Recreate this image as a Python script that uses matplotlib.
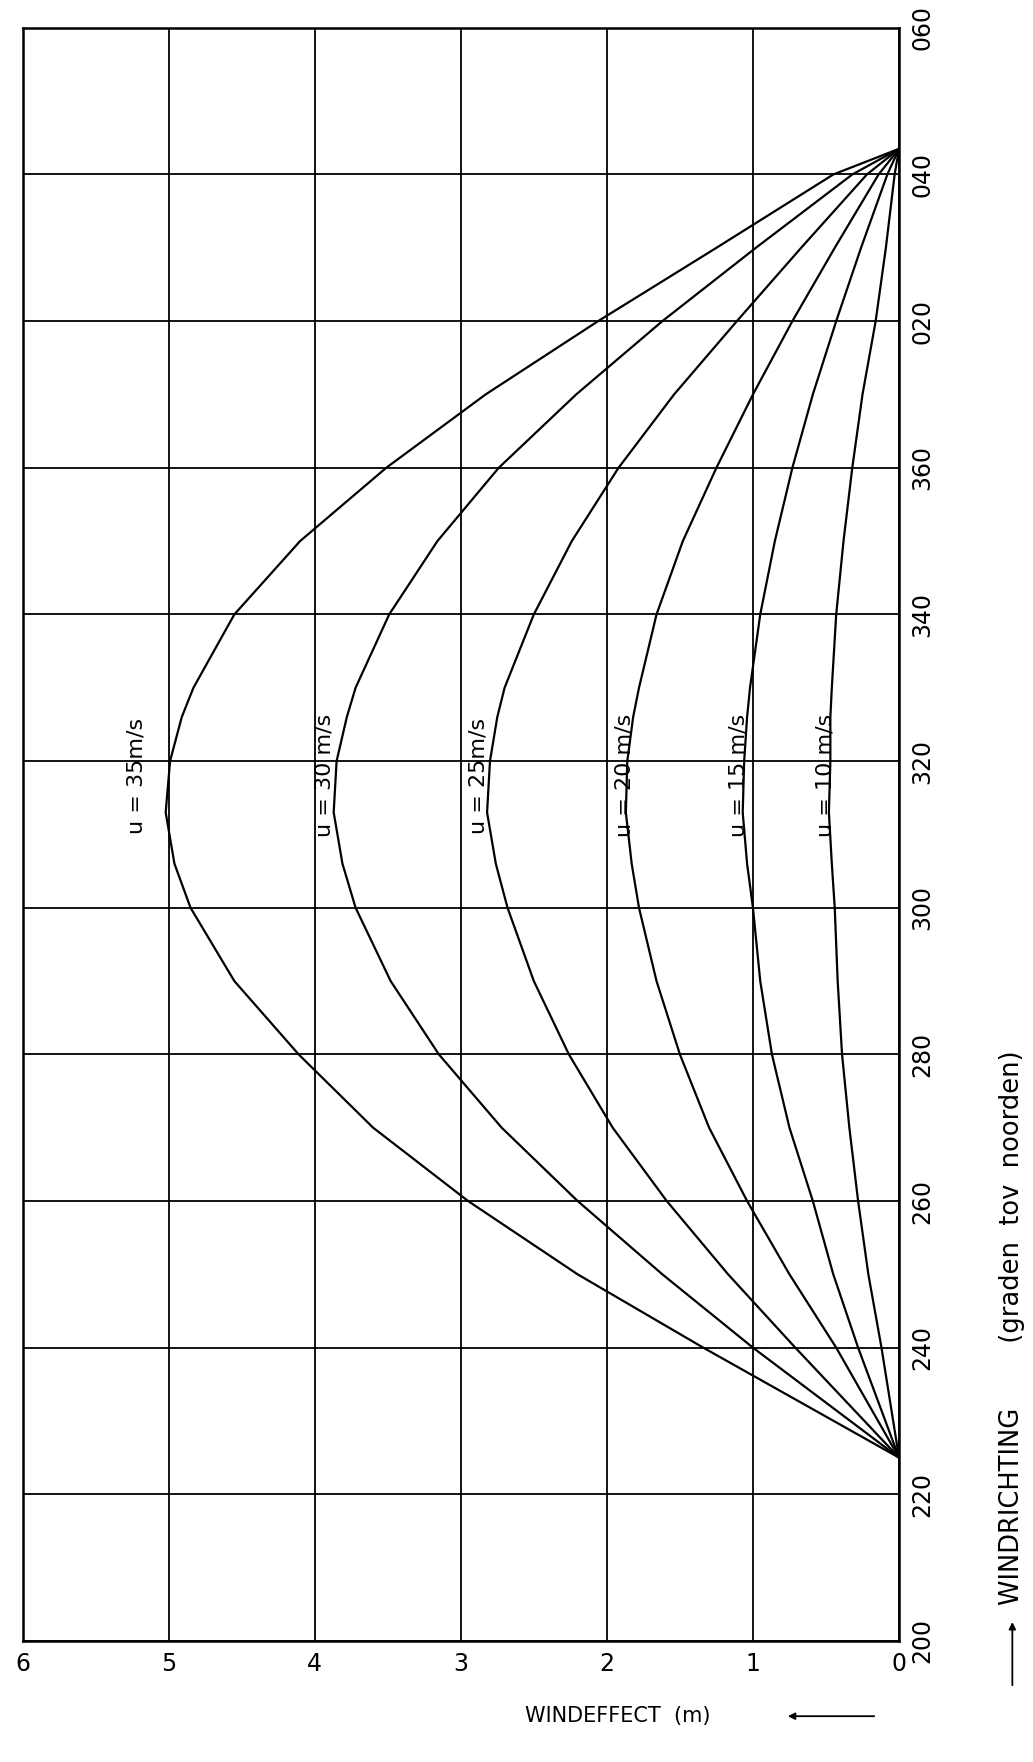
import matplotlib
matplotlib.use("Agg")
import matplotlib.pyplot as plt

plt.rcParams['font.family'] = ['DejaVu Sans']

# windrichting (graden t.o.v. noorden, 400 = 040 enz.)
direction = [225, 240, 250, 260, 270, 280, 290, 300, 306, 313, 320, 326, 330, 340, 350, 360, 370, 380, 390, 400, 403.5]

# windeffect (m) per windsnelheid
effect_35 = [0, 1.34, 2.20, 2.95, 3.60, 4.11, 4.55, 4.85, 4.96, 5.02, 4.99, 4.91, 4.83, 4.55, 4.10, 3.51, 2.83, 2.06, 1.25, 0.45, 0]
effect_30 = [0, 1.00, 1.62, 2.20, 2.72, 3.15, 3.48, 3.72, 3.81, 3.87, 3.85, 3.78, 3.72, 3.49, 3.16, 2.74, 2.21, 1.62, 0.98, 0.32, 0]
effect_25 = [0, 0.71, 1.17, 1.59, 1.96, 2.26, 2.50, 2.68, 2.76, 2.82, 2.80, 2.75, 2.70, 2.50, 2.24, 1.92, 1.54, 1.11, 0.67, 0.22, 0]
effect_20 = [0, 0.43, 0.75, 1.04, 1.30, 1.50, 1.66, 1.78, 1.83, 1.87, 1.86, 1.82, 1.78, 1.66, 1.48, 1.25, 1.00, 0.73, 0.44, 0.14, 0]
effect_15 = [0, 0.28, 0.45, 0.59, 0.75, 0.87, 0.95, 1.00, 1.04, 1.07, 1.06, 1.04, 1.02, 0.95, 0.85, 0.73, 0.59, 0.43, 0.26, 0.08, 0]
effect_10 = [0, 0.12, 0.21, 0.28, 0.34, 0.39, 0.42, 0.44, 0.46, 0.48, 0.47, 0.47, 0.46, 0.43, 0.38, 0.32, 0.25, 0.16, 0.09, 0.03, 0]

curves = [effect_35, effect_30, effect_25, effect_20, effect_15, effect_10]
curve_labels = ["u = 35m/s", "u = 30 m/s", "u = 25m/s", "u = 20 m/s", "u = 15 m/s", "u = 10 m/s"]
label_x = [5.22, 3.93, 2.88, 1.88, 1.10, 0.50]
label_y = [318, 318, 318, 318, 318, 318]

x_ticks = [0, 1, 2, 3, 4, 5, 6]
y_ticks = [200, 220, 240, 260, 280, 300, 320, 340, 360, 380, 400, 420]
y_ticklabels = ["200", "220", "240", "260", "280", "300", "320", "340", "360", "020", "040", "060"]

fig = plt.figure(figsize=(10.33, 17.62), dpi=100)
ax = fig.add_axes([0.0218, 0.0687, 0.8485, 0.9155])

for vals in curves:
    ax.plot(vals, direction, color="black", lw=1.6, solid_joinstyle="round")

for txt, lx, ly in zip(curve_labels, label_x, label_y):
    ax.text(lx, ly, txt, rotation=90, ha="center", va="center", fontsize=16)

ax.set_xlim(6, 0)
ax.set_ylim(200, 420)
ax.set_xticks(x_ticks)
ax.set_xticklabels([str(t) for t in x_ticks], fontsize=17)
ax.set_yticks(y_ticks)
ax.set_yticklabels(y_ticklabels, fontsize=17, rotation=90, va="center")
ax.yaxis.tick_right()
ax.tick_params(length=0, pad=8)
ax.grid(True, color="black", lw=1.3)
for s in ax.spines.values():
    s.set_linewidth(1.8)

# as-titels met pijlen
fig.text(0.598, 0.026, "WINDEFFECT  (m)", ha="center", va="center", fontsize=15)
ax.annotate("", xy=(0.760, 0.026), xytext=(0.849, 0.026), xycoords="figure fraction",
            arrowprops=dict(arrowstyle="-|>", color="black", lw=1.3))
fig.text(0.98, 0.089, "WINDRICHTING        (graden  tov  noorden)", rotation=90,
         ha="center", va="bottom", fontsize=18.5)
ax.annotate("", xy=(0.98, 0.081), xytext=(0.98, 0.042), xycoords="figure fraction",
            arrowprops=dict(arrowstyle="-|>", color="black", lw=1.3))

fig.savefig("out.png", dpi=100)
